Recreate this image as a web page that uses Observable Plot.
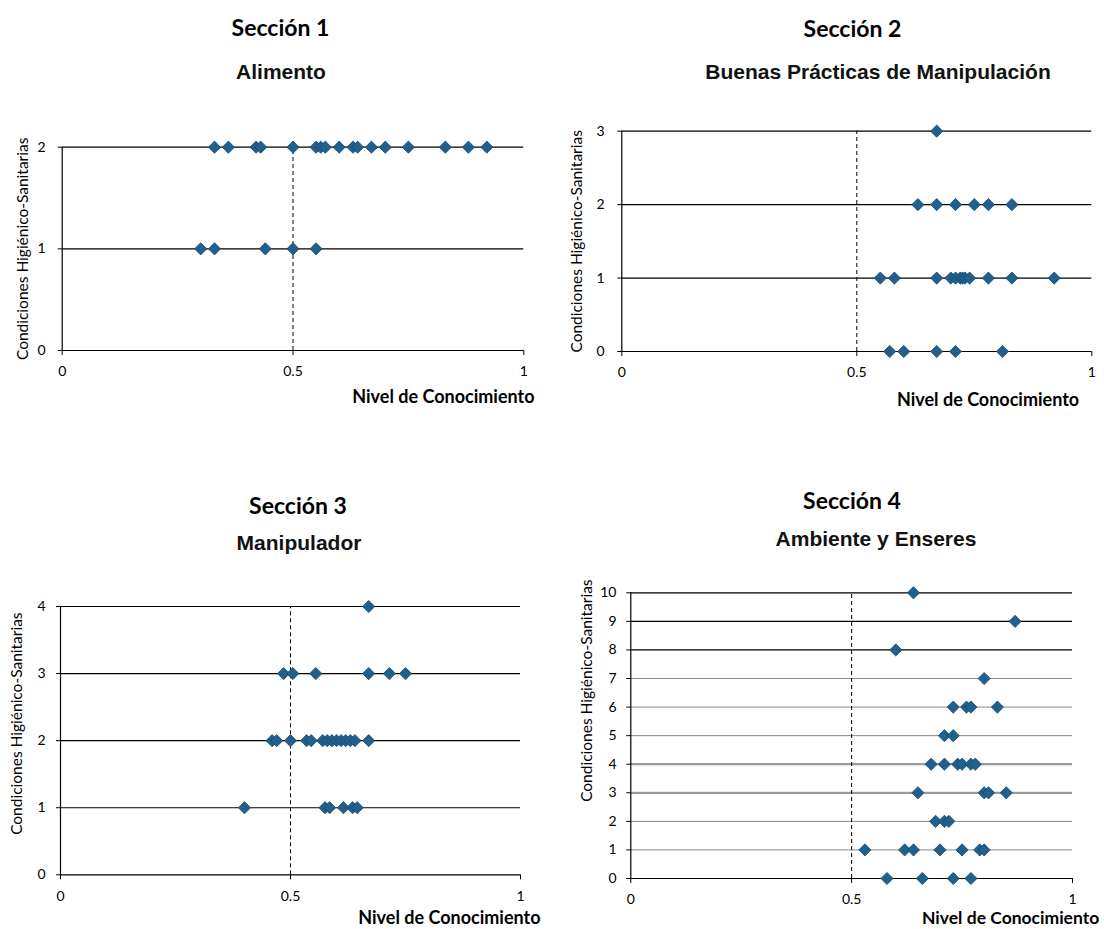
<!DOCTYPE html>
<html><head><meta charset="utf-8">
<script src="https://cdn.jsdelivr.net/npm/d3@7"></script>
<script src="https://cdn.jsdelivr.net/npm/@observablehq/plot@0.6"></script>
<style>
body{margin:0;background:#fff;}
#root{position:relative;width:1104px;height:929px;overflow:hidden;background:#fff;}
.panel{position:absolute;}
.t{position:absolute;width:400px;text-align:center;white-space:nowrap;color:#000;}
.sec{font-family:Lato,sans-serif;font-weight:bold;font-size:23px;line-height:26px;}
.sub{font-family:"Liberation Sans",Arial,sans-serif;font-weight:bold;font-size:21px;line-height:24px;color:#111;}
</style></head><body><div id="root"></div>
<script>
// ---------- data ----------
const xTicks = [0, 0.5, 1];
const xTickLabels = ["0", "0.5", "1"];
const threshold = 0.5;
const xLabel = "Nivel de Conocimiento";
const yLabel = "Condiciones Higiénico-Sanitarias";
const sectionTitles = ["Sección 1", "Sección 2", "Sección 3", "Sección 4"];
const sectionSubtitles = ["Alimento", "Buenas Prácticas de Manipulación", "Manipulador", "Ambiente y Enseres"];

// Sección 1 (levels 0..2)
const s1Max = 2;
const s1L1 = [0.30, 0.33, 0.44, 0.50, 0.55];
const s1L2 = [0.33, 0.36, 0.42, 0.43, 0.50, 0.55, 0.56, 0.57, 0.60, 0.63, 0.64, 0.67, 0.70, 0.75, 0.83, 0.88, 0.92];

// Sección 2 (levels 0..3)
const s2Max = 3;
const s2L0 = [0.57, 0.60, 0.67, 0.71, 0.81];
const s2L1 = [0.55, 0.58, 0.67, 0.70, 0.71, 0.72, 0.725, 0.73, 0.74, 0.78, 0.83, 0.92];
const s2L2 = [0.63, 0.67, 0.71, 0.75, 0.78, 0.83];
const s2L3 = [0.67];

// Sección 3 (levels 0..4)
const s3Max = 4;
const s3L1 = [0.40, 0.575, 0.585, 0.615, 0.635, 0.645];
const s3L2 = [0.46, 0.47, 0.50, 0.535, 0.545, 0.57, 0.58, 0.59, 0.60, 0.61, 0.62, 0.63, 0.64, 0.67];
const s3L3 = [0.485, 0.505, 0.555, 0.67, 0.715, 0.75];
const s3L4 = [0.67];

// Sección 4 (levels 0..10)
const s4Max = 10;
const s4L0 = [0.58, 0.66, 0.73, 0.77];
const s4L1 = [0.53, 0.62, 0.64, 0.70, 0.75, 0.79, 0.80];
const s4L2 = [0.69, 0.71, 0.72];
const s4L3 = [0.65, 0.80, 0.81, 0.85];
const s4L4 = [0.68, 0.71, 0.74, 0.75, 0.77, 0.78];
const s4L5 = [0.71, 0.73];
const s4L6 = [0.73, 0.76, 0.77, 0.83];
const s4L7 = [0.80];
const s4L8 = [0.60];
const s4L9 = [0.87];
const s4L10 = [0.64];

// ---------- helpers ----------
function rows(levels) {
  const out = [];
  for (const [lvl, xs] of levels) for (const x of xs) out.push({x, y: lvl});
  return out;
}
const data1 = rows([[1, s1L1], [2, s1L2]]);
const data2 = rows([[0, s2L0], [1, s2L1], [2, s2L2], [3, s2L3]]);
const data3 = rows([[1, s3L1], [2, s3L2], [3, s3L3], [4, s3L4]]);
const data4 = rows([[0, s4L0], [1, s4L1], [2, s4L2], [3, s4L3], [4, s4L4], [5, s4L5], [6, s4L6], [7, s4L7], [8, s4L8], [9, s4L9], [10, s4L10]]);

const markerFill = "#215F8C";
const markerStroke = "#174a70";

function panel(c) {
  const levels = d3.range(0, c.ymax + 1);
  const gridMarks = c.grid.map(g => Plot.ruleY(g.levels, {x1: 0, x2: 1, stroke: g.stroke, strokeWidth: g.width}));
  return Plot.plot({
    width: c.width, height: c.height,
    marginLeft: c.ml, marginRight: c.mr, marginTop: c.mt, marginBottom: c.mb,
    x: {domain: [0, 1]},
    y: {domain: [0, c.ymax]},
    style: {fontFamily: "Lato, sans-serif", fontSize: "14px", color: "#000", background: "transparent", overflow: "visible"},
    marks: [
      ...gridMarks,
      Plot.ruleY([0], {x1: 0, x2: 1, stroke: "#000", strokeWidth: 1.2}),
      Plot.ruleX([0], {y1: 0, y2: c.ymax, stroke: "#000", strokeWidth: 1.2}),
      Plot.ruleX([threshold], {y1: 0, y2: c.ymax, stroke: "#000", strokeWidth: 1, strokeDasharray: "4,3"}),
      Plot.axisX({ticks: xTicks, tickFormat: d => xTickLabels[xTicks.indexOf(d)], tickSize: 5, tickPadding: 11, label: null, fontSize: 14}),
      Plot.axisY({ticks: levels, tickFormat: d => String(d), tickSize: 4, tickPadding: c.ypad, label: null, fontSize: 14}),
      Plot.dot(c.data, {x: "x", y: "y", symbol: "diamond2", r: 5.5, fill: markerFill, stroke: markerStroke, strokeWidth: 0.8}),
      Plot.text([xLabel], {frameAnchor: "bottom-right", textAnchor: "end", lineAnchor: "middle", dx: c.xlDx, dy: c.xlDy, fontWeight: "bold", fontSize: c.xlSize, text: d => d}),
      Plot.text([yLabel], {frameAnchor: "left", textAnchor: "middle", lineAnchor: "middle", rotate: -90, dx: c.ylDx, dy: c.ylDy, fontSize: 15.5, text: d => d})
    ]
  });
}

const panels = [
  {left: 0, top: 100, width: 545, height: 330, ml: 61.7, mr: 21.7, mt: 46.7, mb: 80, ymax: s1Max, data: data1,
   grid: [{levels: [1, 2], stroke: "#000", width: 1.2}], ypad: 12.5, xlDx: 10.7, xlDy: 46.7, xlSize: 18, ylDx: -39, ylDy: 0},
  {left: 552, top: 100, width: 552, height: 330, ml: 69.3, mr: 12.7, mt: 30.7, mb: 79, ymax: s2Max, data: data2,
   grid: [{levels: [1, 2, 3], stroke: "#000", width: 1.2}], ypad: 13.3, xlDx: -12.6, xlDy: 49, xlSize: 18, ylDx: -45, ylDy: 0},
  {left: 0, top: 580, width: 545, height: 349, ml: 60, mr: 25, mt: 26, mb: 54.7, ymax: s3Max, data: data3,
   grid: [{levels: [1, 2, 3, 4], stroke: "#000", width: 1.2}], ypad: 10.8, xlDx: 20, xlDy: 43, xlSize: 18, ylDx: -43.3, ylDy: -17},
  {left: 552, top: 570, width: 552, height: 359, ml: 78.3, mr: 32, mt: 22.3, mb: 51, ymax: s4Max, data: data4,
   grid: [{levels: [1, 2, 5, 6, 7], stroke: "#8a8a8a", width: 1},
          {levels: [3, 4], stroke: "#9a9a9a", width: 2.2},
          {levels: [8, 9, 10], stroke: "#000", width: 1.2}], ypad: 10.3, xlDx: 26.7, xlDy: 40, xlSize: 17.5, ylDx: -43.3, ylDy: -45}
];

const root = document.getElementById("root");
for (const p of panels) {
  const el = panel(p);
  el.classList.add("panel");
  el.style.left = p.left + "px";
  el.style.top = p.top + "px";
  root.appendChild(el);
}

// titles
const titlePos = [
  {sx: 280.5, sy: 26.7, ux: 281, uy: 71.7},
  {sx: 852.5, sy: 28, ux: 878, uy: 71.7},
  {sx: 298, sy: 505, ux: 299, uy: 543},
  {sx: 852, sy: 500, ux: 876, uy: 539}
];
titlePos.forEach((t, i) => {
  const a = document.createElement("div");
  a.className = "t sec";
  a.textContent = sectionTitles[i];
  a.style.left = (t.sx - 200) + "px";
  a.style.top = (t.sy - 13) + "px";
  root.appendChild(a);
  const b = document.createElement("div");
  b.className = "t sub";
  b.textContent = sectionSubtitles[i];
  b.style.left = (t.ux - 200) + "px";
  b.style.top = (t.uy - 12) + "px";
  root.appendChild(b);
});
</script>
</body></html>
